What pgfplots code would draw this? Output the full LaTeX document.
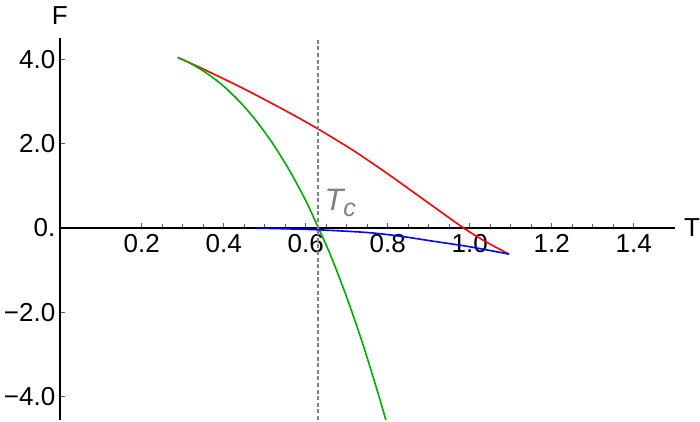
\documentclass[border=0pt]{standalone}
\usepackage{fontspec}
\setmainfont{Liberation Sans}
\usepackage{pgfplots}
\pgfplotsset{compat=1.18}
\definecolor{mmagreen}{rgb}{0,0.67,0}
\begin{document}
\begin{tikzpicture}
\begin{axis}[
  scale only axis,
  width=307.5pt, height=191pt,
  axis lines=middle,
  axis line style={-, line width=1.1pt},
  xmin=0, xmax=1.5, ymin=-4.55, ymax=4.5,
  xtick={0.2,0.4,0.6,0.8,1.0,1.2,1.4},
  xticklabels={0.2,0.4,0.6,0.8,1.0,1.2,1.4},
  minor x tick num=3,
  ytick={-4,-2,0,2,4},
  yticklabels={−4.0,−2.0,0.,2.0,4.0},
  hide obscured y ticks=false,
  tick align=inside,
  major tick length=2.5pt, minor tick length=2pt,
  tick style={gray!70!black, line width=0.5pt},
  every tick label/.append style={font=\fontsize{13}{15}\selectfont},
  yticklabel style={inner sep=2pt},
  xticklabel style={inner sep=3pt},
  xlabel={T}, ylabel={F},
  every axis x label/.style={at={(current axis.right of origin)}, anchor=west, inner sep=0pt, xshift=4.5pt, font=\fontsize{13}{15}\selectfont},
  every axis y label/.style={at={(current axis.above origin)}, anchor=south, inner sep=0pt, yshift=6.5pt, font=\fontsize{13}{15}\selectfont},
  clip=true,
]
% red branch
\addplot[red, line width=0.8pt, smooth] coordinates {
  (0.288,4.04) (0.35,3.766) (0.45,3.293) (0.55,2.783) (0.63,2.347)
  (0.72,1.811) (0.80,1.283) (0.90,0.588) (0.985,0.0) (1.04,-0.33) (1.096,-0.62)
};
% green branch
\addplot[mmagreen, line width=0.8pt, smooth] coordinates {
  (0.288,4.04) (0.32,3.894) (0.36,3.658) (0.40,3.357) (0.44,2.983)
  (0.48,2.530) (0.52,1.993) (0.56,1.37) (0.60,0.65) (0.631,0.0)
  (0.66,-0.63) (0.70,-1.64) (0.74,-2.77) (0.78,-4.03) (0.80,-4.71)
};
% blue branch
\addplot[blue, line width=0.8pt, smooth] coordinates {
  (0.48,-0.005) (0.55,-0.02) (0.634,-0.045) (0.753,-0.11) (0.834,-0.2)
  (0.915,-0.32) (0.997,-0.44) (1.096,-0.62)
};
% critical temperature
\addplot[gray, line width=0.6pt, dash pattern=on 2pt off 1.3pt] coordinates {
  (0.63,-4.55) (0.63,4.5)
};
\node[gray, anchor=south west, inner sep=0pt] at (axis cs:0.645,0.26)
  {\itshape\fontsize{15.5}{17}\selectfont T\raisebox{-0.2em}{\fontsize{12.5}{14}\selectfont c}};
\end{axis}
\path ([yshift=19pt]current axis.above origin);
\end{tikzpicture}
\end{document}
